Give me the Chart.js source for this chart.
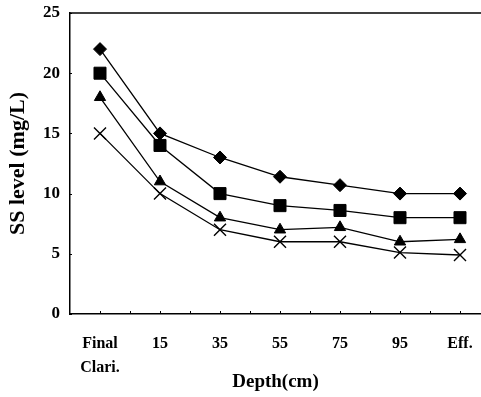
<!DOCTYPE html>
<html lang="en">
<head>
<meta charset="UTF-8">
<title>SS level by depth</title>
<script src="https://cdn.jsdelivr.net/npm/chart.js@4/dist/chart.umd.min.js"></script>
<style>
  html, body { margin: 0; padding: 0; background: #fff; }
  #wrap { width: 481px; height: 397px; }
</style>
</head>
<body>
<div id="wrap"><canvas id="chart" width="481" height="397"></canvas></div>
<script>
// sampling positions along the bed
const depthLabels = [['Final', 'Clari.'], '15', '35', '55', '75', '95', 'Eff.'];

// SS level (mg/L) for each run
const seriesDiamond = [22, 15, 13, 11.4, 10.7, 10, 10];
const seriesSquare = [20, 14, 10, 9, 8.6, 8, 8];
const seriesTriangle = [18, 11, 8, 7, 7.2, 6, 6.2];
const seriesCross = [15, 10, 7, 6, 6, 5.1, 4.9];

const yTicks = [0, 5, 10, 15, 20, 25];

const FONT = "'Liberation Serif', 'Times New Roman', serif";

function toPoints(values) {
  return values.map((v, i) => ({ x: i, y: v }));
}

function makeSeries(values, style, radius) {
  return {
    data: toPoints(values),
    borderColor: '#000',
    backgroundColor: '#000',
    borderWidth: 1.3,
    pointStyle: style,
    pointRadius: radius,
    pointBorderWidth: style === 'crossRot' ? 1.4 : 1,
    pointBorderColor: '#000',
    pointBackgroundColor: '#000',
    tension: 0,
    clip: false,
  };
}

// keep the plot box fixed: no extra room for overhanging tick labels
function fixSize(prop, size) {
  return (scale) => {
    scale[prop] = size;
    scale.paddingLeft = 0;
    scale.paddingRight = 0;
    scale.paddingTop = 0;
    scale.paddingBottom = 0;
  };
}

// frame top line plus the small inward tick marks
const framePlugin = {
  id: 'frame',
  afterDatasetsDraw(chart) {
    const { ctx, chartArea } = chart;
    const xs = chart.scales.x;
    const ys = chart.scales.y;
    ctx.save();
    ctx.strokeStyle = '#000';
    ctx.lineWidth = 1.5;
    ctx.beginPath();
    ctx.moveTo(chartArea.left, chartArea.top);
    ctx.lineTo(chartArea.right, chartArea.top);
    ctx.stroke();

    ctx.lineWidth = 1;
    ctx.beginPath();
    for (let v = 0; v <= 6; v += 0.5) {
      const px = Math.round(xs.getPixelForValue(v)) + 0.5;
      ctx.moveTo(px, chartArea.bottom);
      ctx.lineTo(px, chartArea.bottom - 3);
    }
    yTicks.forEach((v) => {
      const py = Math.round(ys.getPixelForValue(v)) + 0.5;
      ctx.moveTo(chartArea.left, py);
      ctx.lineTo(chartArea.left + 2, py);
    });
    ctx.stroke();
    ctx.restore();
  },
};

new Chart(document.getElementById('chart'), {
  type: 'line',
  data: {
    datasets: [
      makeSeries(seriesDiamond, 'rectRot', 6.5),
      makeSeries(seriesSquare, 'rect', 8.5),
      makeSeries(seriesTriangle, 'triangle', 6.5),
      makeSeries(seriesCross, 'crossRot', 8.5),
    ],
  },
  options: {
    responsive: false,
    animation: false,
    layout: { autoPadding: false, padding: { top: 13, right: 0, left: 0, bottom: 0 } },
    plugins: {
      legend: { display: false },
      tooltip: { enabled: false },
    },
    scales: {
      x: {
        type: 'linear',
        min: -0.5,
        max: 6.35,
        afterBuildTicks: (scale) => {
          scale.ticks = depthLabels.map((_, i) => ({ value: i }));
        },
        afterFit: fixSize('height', 83),
        grid: { display: false, drawTicks: false },
        border: { display: true, color: '#000', width: 1.5 },
        ticks: {
          autoSkip: false,
          maxRotation: 0,
          padding: 18,
          color: '#000',
          font: { family: FONT, size: 16, weight: 'bold', lineHeight: 1.5 },
          callback: (value) => depthLabels[value],
        },
        title: {
          display: true,
          text: 'Depth(cm)',
          color: '#000',
          font: { family: FONT, size: 19, weight: 'bold', lineHeight: 1.2 },
          padding: { top: 0, bottom: 4 },
        },
      },
      y: {
        min: 0,
        max: 25,
        afterBuildTicks: (scale) => {
          scale.ticks = yTicks.map((v) => ({ value: v }));
        },
        afterFit: fixSize('width', 70),
        grid: { display: false, drawTicks: false },
        border: { display: true, color: '#000', width: 1.5 },
        ticks: {
          padding: 10,
          color: '#000',
          font: { family: FONT, size: 17, weight: 'bold' },
        },
        title: {
          display: true,
          text: 'SS level (mg/L)',
          color: '#000',
          font: { family: FONT, size: 22, weight: 'bold', lineHeight: 1.2 },
          padding: { top: 5, bottom: 0 },
        },
      },
    },
  },
  plugins: [framePlugin],
});
</script>
</body>
</html>
